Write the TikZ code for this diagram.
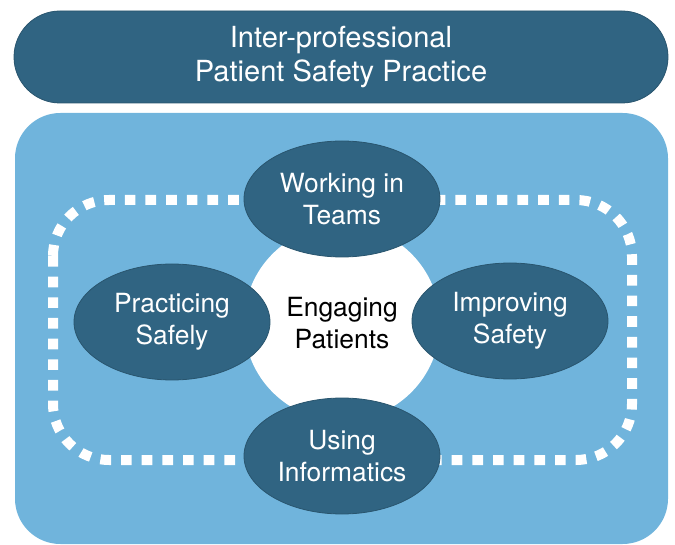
\documentclass[tikz,border=0pt]{standalone}
\usepackage{fontspec}
\setmainfont{TeX Gyre Heros}
\usetikzlibrary{shapes.geometric}
\definecolor{darkteal}{RGB}{48,100,130}
\definecolor{lightblue}{RGB}{112,180,220}
\tikzset{
  topic/.style={ellipse, fill=darkteal, draw=darkteal!85!black, line width=0.6pt,
    minimum width=147pt, minimum height=87pt, inner sep=0pt,
    text=white, align=center, font=\fontsize{19.8}{24}\selectfont},
  hub/.style={circle, fill=white, minimum size=147pt, inner sep=0pt,
    align=center, font=\fontsize{19.8}{24}\selectfont},
  dashring/.style={draw=white, line width=7.5pt, dash pattern=on 8pt off 7.5pt, rounded corners=42pt},
}
\begin{document}
\begin{tikzpicture}[x=0.75pt,y=-0.75pt]
\useasboundingbox (0,0) rectangle (675,545);
% top banner
\node[fill=darkteal, draw=darkteal!85!black, line width=0.6pt, rounded corners=34.5pt,
  minimum width=490.5pt, minimum height=69pt, inner sep=0pt, text=white, align=center,
  font=\fontsize{21.8}{26}\selectfont] (banner) at (341,57) {Inter-professional\\Patient Safety Practice};
% light panel
\node[fill=lightblue, rounded corners=34pt, minimum width=489.75pt, minimum height=323.25pt,
  inner sep=0pt] (panel) at (341.5,328.5) {};
% dashed ring
\draw[dashring] (53,200) rectangle (632,460);
% hub
\node[hub] (hub) at (342,323) {Engaging\\Patients};
% topics
\node[topic] (teams) at (342,199) {Working in\\Teams};
\node[topic] (practice) at (172,322) {Practicing\\Safely};
\node[topic] (improve) at (510,321) {Improving\\Safety};
\node[topic] (informatics) at (342,456) {Using\\Informatics};
\end{tikzpicture}
\end{document}
